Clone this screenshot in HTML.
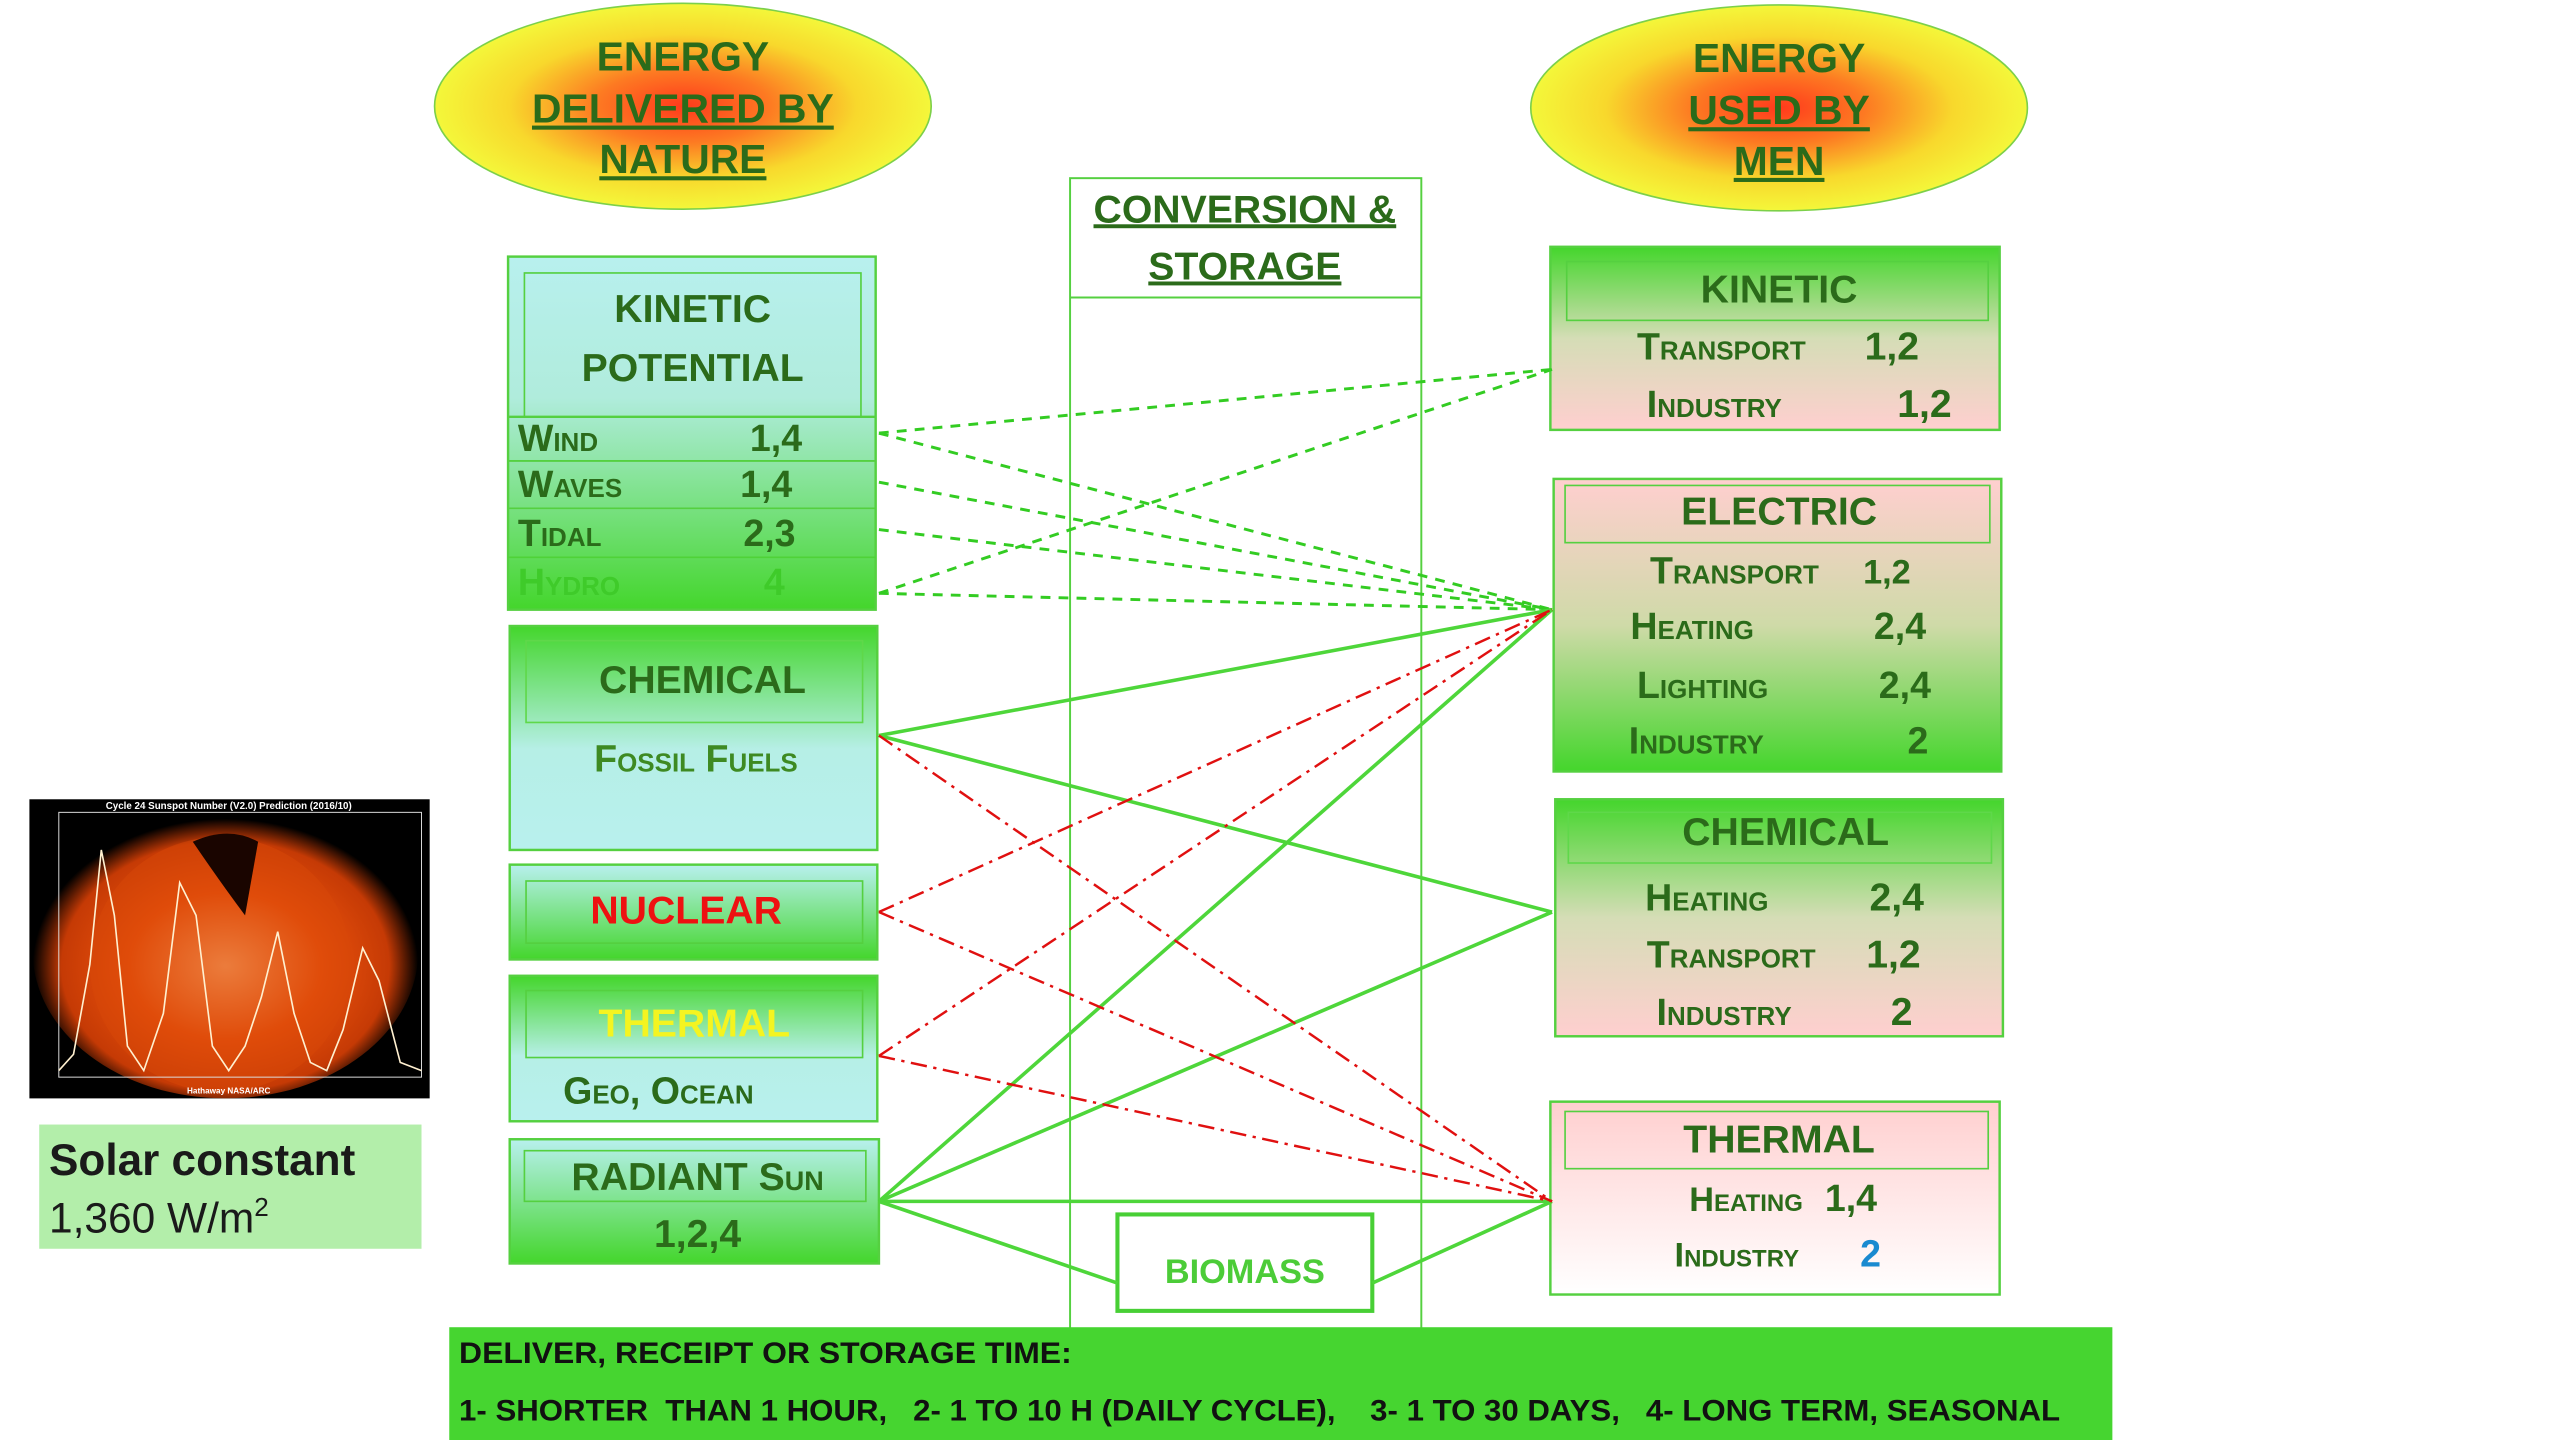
<!DOCTYPE html>
<html><head><meta charset="utf-8"><style>
html,body{margin:0;padding:0;background:#fff;}
svg{display:block;}
text{font-family:"Liberation Sans Narrow","Liberation Sans",sans-serif;font-weight:bold;fill:#2b6b1a;}
.sc{font-variant:small-caps;}
</style></head><body>
<svg width="2560" height="1440" viewBox="0 0 1567 881" preserveAspectRatio="none" xmlns="http://www.w3.org/2000/svg">
<defs>
<radialGradient id="ell" cx="50%" cy="50%" r="50%">
<stop offset="0" stop-color="#ff3a1c"/><stop offset="0.35" stop-color="#fd7a22"/><stop offset="0.7" stop-color="#f8d82c"/><stop offset="1" stop-color="#f4f73a"/></radialGradient>
<linearGradient id="cg" x1="0" y1="0" x2="0" y2="1"><stop offset="0" stop-color="#b8f0ee"/><stop offset="1" stop-color="#44d62c"/></linearGradient>
<linearGradient id="gc" x1="0" y1="0" x2="0" y2="1"><stop offset="0" stop-color="#44d62c"/><stop offset="0.55" stop-color="#b6efe6"/><stop offset="1" stop-color="#b8f0ee"/></linearGradient>
<linearGradient id="kin" x1="0" y1="0" x2="0" y2="1"><stop offset="0" stop-color="#b8f0ee"/><stop offset="0.4" stop-color="#b0ecdc"/><stop offset="1" stop-color="#44d62c"/></linearGradient>
<linearGradient id="gp" x1="0" y1="0" x2="0" y2="1"><stop offset="0" stop-color="#44d62c"/><stop offset="0.5" stop-color="#d5ddb6"/><stop offset="1" stop-color="#ffcfcf"/></linearGradient>
<linearGradient id="pg" x1="0" y1="0" x2="0" y2="1"><stop offset="0" stop-color="#ffcfcf"/><stop offset="0.5" stop-color="#cfdaa8"/><stop offset="1" stop-color="#44d62c"/></linearGradient>
<linearGradient id="pw" x1="0" y1="0" x2="0" y2="1"><stop offset="0" stop-color="#ffcfcf"/><stop offset="1" stop-color="#ffffff"/></linearGradient>
<radialGradient id="sun" cx="50%" cy="55%" r="50%"><stop offset="0" stop-color="#ffb070"/><stop offset="0.5" stop-color="#e8500c"/><stop offset="0.85" stop-color="#c53a05"/><stop offset="1" stop-color="#000"/></radialGradient>
</defs>

<ellipse cx="418" cy="65" rx="152" ry="63" fill="url(#ell)" stroke="#7cd04a" stroke-width="1"/>
<text x="418" y="43" font-size="25" text-anchor="middle">ENERGY</text>
<text x="418" y="75" font-size="25" text-anchor="middle" text-decoration="underline">DELIVERED BY</text>
<text x="418" y="106" font-size="25" text-anchor="middle" text-decoration="underline">NATURE</text>
<ellipse cx="1089" cy="66" rx="152" ry="63" fill="url(#ell)" stroke="#7cd04a" stroke-width="1"/>
<text x="1089" y="44" font-size="25" text-anchor="middle">ENERGY</text>
<text x="1089" y="76" font-size="25" text-anchor="middle" text-decoration="underline">USED BY</text>
<text x="1089" y="107" font-size="25" text-anchor="middle" text-decoration="underline">MEN</text>

<rect x="655" y="109" width="215" height="710" fill="none" stroke="#55d040" stroke-width="1.2"/>
<line x1="655" y1="182" x2="870" y2="182" stroke="#55d040" stroke-width="1.2"/>
<text x="762" y="136" font-size="24" text-anchor="middle" text-decoration="underline">CONVERSION &amp;</text>
<text x="762" y="171" font-size="24" text-anchor="middle" text-decoration="underline">STORAGE</text>

<rect x="311" y="157" width="225" height="216" fill="url(#kin)" stroke="#55d040" stroke-width="1.5"/>
<rect x="321" y="167" width="206" height="88" fill="none" stroke="#55d040" stroke-width="1"/>
<line x1="311" y1="255" x2="536" y2="255" stroke="#55d040" stroke-width="1.5"/>
<line x1="311" y1="282" x2="536" y2="282" stroke="#55d040" stroke-width="1.2"/>
<line x1="311" y1="311" x2="536" y2="311" stroke="#55d040" stroke-width="1"/>
<line x1="311" y1="341" x2="536" y2="341" stroke="#4fd238" stroke-width="1"/>
<text x="424" y="197" font-size="24" text-anchor="middle">KINETIC</text>
<text x="424" y="233" font-size="24" text-anchor="middle">POTENTIAL</text>
<text x="317" y="276" font-size="23" class="sc">Wind</text><text x="475" y="276" font-size="23" text-anchor="middle">1,4</text>
<text x="317" y="304" font-size="23" class="sc">Waves</text><text x="469" y="304" font-size="23" text-anchor="middle">1,4</text>
<text x="317" y="334" font-size="23" class="sc">Tidal</text><text x="471" y="334" font-size="23" text-anchor="middle">2,3</text>
<text x="317" y="364" font-size="23" class="sc" style="fill:#3fcb2a">Hydro</text><text x="474" y="364" font-size="23" text-anchor="middle" style="fill:#3fcb2a">4</text>

<rect x="312" y="383" width="225" height="137" fill="url(#gc)" stroke="#55d040" stroke-width="1.5"/>
<rect x="322" y="392" width="206" height="50" fill="none" stroke="#5fd84a" stroke-width="1"/>
<text x="430" y="424" font-size="24" text-anchor="middle">CHEMICAL</text>
<text x="426" y="472" font-size="23" text-anchor="middle" class="sc" style="fill:#3e8a22">Fossil  Fuels</text>

<rect x="312" y="529" width="225" height="58" fill="url(#cg)" stroke="#55d040" stroke-width="1.5"/>
<rect x="322" y="539" width="206" height="38" fill="none" stroke="#55d040" stroke-width="1"/>
<text x="420" y="565" font-size="24" text-anchor="middle" style="fill:#ee1111">NUCLEAR</text>

<rect x="312" y="597" width="225" height="89" fill="url(#gc)" stroke="#55d040" stroke-width="1.5"/>
<rect x="322" y="606" width="206" height="41" fill="none" stroke="#55d040" stroke-width="1"/>
<text x="425" y="634" font-size="24" text-anchor="middle" style="fill:#f4f420">THERMAL</text>
<text x="403" y="675" font-size="23" text-anchor="middle" class="sc">Geo, Ocean</text>

<rect x="312" y="697" width="226" height="76" fill="url(#cg)" stroke="#55d040" stroke-width="1.5"/>
<rect x="321" y="704" width="209" height="31" fill="none" stroke="#55d040" stroke-width="1"/>
<text x="427" y="728" font-size="24" text-anchor="middle"><tspan>RADIANT </tspan><tspan class="sc">Sun</tspan></text>
<text x="427" y="763" font-size="24" text-anchor="middle">1,2,4</text>

<rect x="949" y="151" width="275" height="112" fill="url(#gp)" stroke="#55d040" stroke-width="1.5"/>
<rect x="959" y="160" width="258" height="36" fill="none" stroke="#55d040" stroke-width="1"/>
<text x="1089" y="185" font-size="24" text-anchor="middle">KINETIC</text>
<text x="1002" y="220" font-size="23" class="sc">Transport</text><text x="1158" y="220" font-size="24" text-anchor="middle">1,2</text>
<text x="1008" y="255" font-size="23" class="sc">Industry</text><text x="1178" y="255" font-size="24" text-anchor="middle">1,2</text>

<rect x="951" y="293" width="274" height="179" fill="url(#pg)" stroke="#55d040" stroke-width="1.5"/>
<rect x="958" y="297" width="260" height="35" fill="none" stroke="#55d040" stroke-width="1"/>
<text x="1089" y="321" font-size="24" text-anchor="middle">ELECTRIC</text>
<text x="1010" y="357" font-size="23" class="sc">Transport</text><text x="1155" y="357" font-size="21" text-anchor="middle">1,2</text>
<text x="998" y="391" font-size="23" class="sc">Heating</text><text x="1163" y="391" font-size="23" text-anchor="middle">2,4</text>
<text x="1002" y="427" font-size="23" class="sc">Lighting</text><text x="1166" y="427" font-size="23" text-anchor="middle">2,4</text>
<text x="997" y="461" font-size="23" class="sc">Industry</text><text x="1174" y="461" font-size="23" text-anchor="middle">2</text>

<rect x="952" y="489" width="274" height="145" fill="url(#gp)" stroke="#55d040" stroke-width="1.5"/>
<rect x="960" y="497" width="259" height="31" fill="none" stroke="#5fd84a" stroke-width="1"/>
<text x="1093" y="517" font-size="24" text-anchor="middle">CHEMICAL</text>
<text x="1007" y="557" font-size="23" class="sc">Heating</text><text x="1161" y="557" font-size="24" text-anchor="middle">2,4</text>
<text x="1008" y="592" font-size="23" class="sc">Transport</text><text x="1159" y="592" font-size="24" text-anchor="middle">1,2</text>
<text x="1014" y="627" font-size="23" class="sc">Industry</text><text x="1164" y="627" font-size="24" text-anchor="middle">2</text>

<rect x="949" y="674" width="275" height="118" fill="url(#pw)" stroke="#55d040" stroke-width="1.5"/>
<rect x="958" y="680" width="259" height="35" fill="none" stroke="#55d040" stroke-width="1"/>
<text x="1089" y="705" font-size="24" text-anchor="middle">THERMAL</text>
<text x="1034" y="741" font-size="21" class="sc">Heating</text><text x="1133" y="741" font-size="23" text-anchor="middle">1,4</text>
<text x="1025" y="775" font-size="21" class="sc">Industry</text><text x="1145" y="775" font-size="23" text-anchor="middle" style="fill:#1a8ad0">2</text>

<rect x="684" y="743" width="156" height="59" fill="#fff" stroke="#48cf35" stroke-width="2.5"/>
<text x="762" y="785" font-size="21" text-anchor="middle" style="fill:#4ccc38">BIOMASS</text>

<g stroke="#33cc22" stroke-width="1.8" stroke-dasharray="6,5" fill="none">
<line x1="538" y1="265" x2="950" y2="226"/>
<line x1="538" y1="265" x2="950" y2="373"/>
<line x1="538" y1="295" x2="950" y2="373"/>
<line x1="538" y1="324" x2="950" y2="373"/>
<line x1="538" y1="363" x2="950" y2="373"/>
<line x1="538" y1="363" x2="950" y2="226"/>
</g>
<g stroke="#4ed63a" stroke-width="2.2" fill="none">
<line x1="538" y1="450" x2="950" y2="373"/>
<line x1="538" y1="450" x2="950" y2="558"/>
<line x1="538" y1="735" x2="950" y2="373"/>
<line x1="538" y1="735" x2="950" y2="558"/>
<line x1="538" y1="735" x2="950" y2="735"/>
<line x1="538" y1="735" x2="684" y2="785"/>
<line x1="840" y1="785" x2="950" y2="735"/>
</g>
<g stroke="#e01010" stroke-width="1.5" stroke-dasharray="10,4,2,4" fill="none">
<line x1="538" y1="450" x2="950" y2="735"/>
<line x1="538" y1="558" x2="950" y2="373"/>
<line x1="538" y1="558" x2="950" y2="735"/>
<line x1="538" y1="646" x2="950" y2="373"/>
<line x1="538" y1="646" x2="950" y2="735"/>
</g>

<rect x="275" y="812" width="1018" height="69" fill="#46d530"/>
<text x="281" y="834" font-size="18" textLength="375" lengthAdjust="spacingAndGlyphs" style="fill:#111">DELIVER, RECEIPT  OR STORAGE TIME:</text>
<text x="281" y="869" font-size="18" textLength="980" lengthAdjust="spacingAndGlyphs" style="fill:#111" xml:space="preserve">1- SHORTER  THAN 1 HOUR,   2- 1 TO 10 H (DAILY CYCLE),    3- 1 TO 30 DAYS,   4- LONG TERM, SEASONAL</text>

<rect x="18" y="489" width="245" height="183" fill="#000"/>
<ellipse cx="138" cy="582" rx="118" ry="90" fill="url(#sun)"/>
<ellipse cx="135" cy="590" rx="80" ry="78" fill="#d84808" opacity="0.5"/>
<path d="M118,515 Q140,505 158,515 L150,560 Q135,540 118,515Z" fill="#1a0500"/>
<rect x="36" y="497" width="222" height="162" fill="none" stroke="#ddd" stroke-width="0.6"/>
<polyline points="36,655 45,645 55,590 62,520 70,560 78,640 88,655 100,620 110,540 120,560 130,640 140,655 150,640 160,610 170,570 180,620 190,650 200,655 210,630 222,580 232,600 245,650 258,655" fill="none" stroke="#fff0d0" stroke-width="1"/>
<text x="140" y="495" font-size="6" text-anchor="middle" style="fill:#fff">Cycle 24 Sunspot Number (V2.0) Prediction (2016/10)</text>
<text x="140" y="669" font-size="5" text-anchor="middle" style="fill:#fff">Hathaway  NASA/ARC</text>

<rect x="24" y="688" width="234" height="76" fill="#b3eeaa"/>
<text x="30" y="719" font-size="27" style="fill:#1a1a1a">Solar constant</text>
<text x="30" y="754" font-size="26" style="fill:#1a1a1a;font-weight:normal">1,360 W/m<tspan font-size="16" dy="-10">2</tspan></text>
</svg>
</body></html>
